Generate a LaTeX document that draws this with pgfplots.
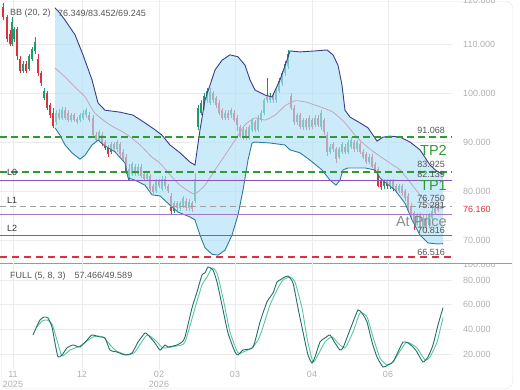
\documentclass[border=0pt]{standalone}
\usepackage{pgfplots}
\pgfplotsset{compat=1.18}
\usepackage{pgfplotstable}
\usepackage{fontspec}
\setmainfont{Liberation Sans}
\definecolor{cred}{HTML}{D8343F}
\definecolor{cgreen}{HTML}{1E9B6C}
\definecolor{bbfill}{HTML}{AFE1F8}
\definecolor{bbup}{HTML}{3E3A8E}
\definecolor{bblo}{HTML}{2E7D98}
\definecolor{bbmid}{HTML}{C4A6B8}
\definecolor{tpgreen}{HTML}{2F9A36}
\definecolor{lvpurple}{HTML}{8A55B5}
\definecolor{lvred}{HTML}{E0303A}
\definecolor{lvgray}{HTML}{A0A0A0}
\definecolor{tickgray}{HTML}{B0B0B0}
\definecolor{txt}{HTML}{555555}
\definecolor{gridc}{HTML}{EBEBEB}
\definecolor{kcol}{HTML}{1F6F6C}
\definecolor{dcol}{HTML}{5CC4A0}
\definecolor{framec}{HTML}{E4E4E4}
\definecolor{sepc}{HTML}{9A9A9A}
\newcommand\tf{\fontsize{9}{10}\selectfont}
\newcommand\bigf{\fontsize{14.5}{15}\selectfont}

\pgfplotstableread{
x o c h l
3 117.5 115.5 118.3 115.0
7 115.5 111.0 116.0 110.5
10 112.0 110.0 112.8 109.6
17 113.0 107.5 113.5 106.8
20 107.0 104.5 107.5 104.0
26 106.0 104.5 106.5 104.0
38 107.0 104.0 108.0 103.5
41 104.0 102.0 104.5 101.5
47 100.0 97.0 100.5 96.5
50 97.5 95.5 98.0 95.0
53 96.0 93.2 97.0 92.8
59 96.0 95.0 96.8 94.6
65 96.5 95.0 97.2 94.6
68 96.0 94.5 96.5 94.0
74 95.5 94.5 96.0 94.0
89 95.5 94.5 96.2 94.0
93 95.0 91.5 95.5 91.0
96 91.5 90.5 92.0 90.0
102 91.5 89.5 92.0 89.2
105 90.0 88.8 90.5 88.4
108 89.0 87.5 89.4 87.0
114 89.5 88.5 90.0 88.0
120 89.5 87.5 90.0 87.0
123 88.0 86.5 88.5 86.0
126 87.0 84.0 87.5 83.5
135 85.0 83.5 85.5 83.0
141 85.0 83.0 85.5 82.6
144 83.5 82.5 84.0 82.0
150 83.0 80.5 83.5 80.0
153 81.0 79.8 81.5 79.3
159 82.0 81.0 82.5 80.6
165 82.5 81.0 83.0 80.5
168 81.0 80.0 81.5 79.5
171 79.0 76.0 79.5 75.3
177 77.5 76.5 78.0 76.0
186 78.0 76.5 78.5 76.0
192 77.5 76.3 78.0 75.8
213 100.0 98.5 100.5 98.0
216 99.0 97.5 99.5 97.0
219 98.0 96.0 98.5 95.5
222 96.5 95.0 97.0 94.5
228 96.0 95.0 96.5 94.5
234 96.0 94.5 96.5 94.0
237 95.0 93.5 95.5 92.2
240 93.0 91.0 93.5 90.8
246 92.5 91.0 93.0 90.5
255 94.0 92.5 94.5 92.0
267 99.5 98.5 103.0 98.0
273 99.5 98.5 100.0 98.0
291 99.5 97.0 100.0 96.5
294 97.0 94.0 97.5 93.5
300 95.5 93.0 96.0 92.6
306 94.5 93.0 95.0 92.5
312 94.5 93.0 95.0 92.6
318 95.0 93.5 95.5 93.0
324 94.5 92.0 95.0 91.5
327 91.5 88.0 92.0 87.2
333 89.5 88.5 90.0 88.0
336 88.5 86.5 89.0 85.8
345 89.0 88.0 89.5 87.5
354 90.0 88.5 90.5 88.0
360 89.5 88.0 90.0 87.5
363 88.0 87.0 88.5 86.5
366 87.5 86.0 88.0 85.5
372 87.0 85.0 87.5 84.6
375 85.5 84.0 86.0 83.6
378 84.5 81.0 85.0 80.8
381 82.0 80.8 82.5 80.3
387 82.0 81.0 82.5 80.5
393 82.0 80.5 82.5 80.0
396 81.0 80.0 81.5 79.5
402 81.0 79.5 81.5 79.0
405 80.0 78.5 80.5 78.0
408 79.0 76.5 79.5 76.0
411 77.0 75.0 77.5 74.5
414 75.5 73.5 76.0 72.0
420 75.0 72.5 75.5 72.0
426 74.5 72.5 75.0 71.5
435 76.5 75.5 77.5 75.0
438 77.0 76.16 77.5 75.8
}\dn

\pgfplotstableread{
x o c h l
12 110.0 114.5 115.5 109.6
14 111.0 113.0 113.5 110.5
23 104.5 106.0 106.5 104.0
29 105.0 107.5 108.0 104.5
32 107.0 109.0 109.5 106.5
35 108.5 110.5 111.5 108.0
44 99.0 100.5 101.0 98.5
56 94.0 96.0 96.5 93.5
62 95.0 96.5 97.2 94.6
71 94.5 95.5 96.0 94.0
77 94.0 94.8 95.2 93.6
80 94.5 95.5 96.0 94.0
83 95.0 96.0 96.6 94.6
86 95.5 96.5 97.0 95.0
99 90.5 92.0 92.5 90.0
111 88.0 89.5 90.0 87.5
117 88.5 90.0 90.5 88.0
129 82.0 84.5 85.5 82.0
132 83.5 85.5 86.0 83.0
138 83.5 85.0 85.5 83.0
147 82.5 83.5 84.0 82.0
156 80.0 82.0 82.5 79.6
162 80.5 82.5 83.0 80.0
174 76.0 77.5 78.0 75.5
180 76.5 77.5 78.0 76.0
183 77.0 78.5 79.0 76.5
189 76.5 77.8 78.3 76.0
195 78.0 82.5 83.7 77.5
198 93.0 97.0 97.5 92.5
201 96.0 98.0 98.5 95.5
204 97.0 99.5 100.0 96.5
207 98.5 100.5 101.0 98.0
210 98.0 100.3 101.0 97.6
225 95.0 96.0 96.5 94.5
231 95.5 96.5 97.0 95.0
243 91.0 92.5 93.0 90.5
249 91.0 93.0 93.5 90.5
252 92.5 94.5 95.0 92.0
258 92.5 95.0 95.5 92.0
261 94.5 96.0 96.5 94.0
264 96.0 98.5 99.0 95.5
270 98.5 99.5 100.0 98.0
276 98.5 100.5 101.0 98.0
279 100.5 102.5 103.0 100.0
282 102.0 104.0 104.5 101.5
285 104.0 106.0 106.5 103.5
288 105.5 108.0 108.8 105.0
297 94.0 95.5 96.0 93.5
303 93.0 94.5 95.0 92.5
309 93.0 95.0 95.5 92.5
315 93.5 95.0 95.5 93.0
321 93.0 96.0 96.5 92.5
330 88.0 89.0 89.5 87.5
339 87.0 88.5 89.0 86.5
342 88.0 89.5 90.0 87.5
348 88.0 90.0 90.5 87.5
351 89.0 90.5 91.0 88.5
357 88.5 90.0 90.5 88.0
369 86.0 87.0 87.5 85.5
384 81.0 82.0 82.5 80.5
390 81.0 82.0 82.5 80.5
399 80.0 81.0 81.5 79.5
417 73.5 75.0 75.5 73.0
423 72.5 74.5 75.0 72.0
429 73.0 75.0 75.5 72.5
432 74.5 76.0 76.5 74.0
}\up

\begin{document}
\begin{tikzpicture}
\useasboundingbox (0,0) rectangle (520pt,-390pt);
\draw[framec, rounded corners=6pt] (1.5pt,-1.5pt) rectangle (512.5pt,-388.5pt);
\begin{axis}[
  at={(0pt,0pt)}, anchor=north west,
  scale only axis, width=452pt, height=263pt,
  xmin=0, xmax=452, ymin=65.3, ymax=119.0,
  clip=false,
  axis line style={draw=none},
  major tick length=0pt,
  xtick={13,82,159,235,312,388}, xticklabels={},
  ytick={70,80,90,100,110},
  yticklabel pos=right,
  /pgf/number format/assume math mode=true,
  yticklabel style={anchor=west, xshift=11pt, inner sep=0pt, font=\tf, text=tickgray,
    /pgf/number format/fixed, /pgf/number format/fixed zerofill,
    /pgf/number format/precision=3, /pgf/number format/1000 sep={}},
  grid=major, major grid style={draw=gridc, line width=0.6pt},
]
% candles: wicks and bodies
\addplot[draw=none, forget plot, error bars/.cd, y dir=plus, y explicit, error mark=none,
  error bar style={line width=0.7pt, draw=cred}]
  table[x=x, y=l, y error plus expr=\thisrow{h}-\thisrow{l}] {\dn};
\addplot[draw=none, forget plot, error bars/.cd, y dir=minus, y explicit, error mark=none,
  error bar style={line width=2.2pt, draw=cred}]
  table[x=x, y=o, y error minus expr=\thisrow{o}-\thisrow{c}] {\dn};
\addplot[draw=none, forget plot, error bars/.cd, y dir=plus, y explicit, error mark=none,
  error bar style={line width=0.7pt, draw=cgreen}]
  table[x=x, y=l, y error plus expr=\thisrow{h}-\thisrow{l}] {\up};
\addplot[draw=none, forget plot, error bars/.cd, y dir=plus, y explicit, error mark=none,
  error bar style={line width=2.2pt, draw=cgreen}]
  table[x=x, y=o, y error plus expr=\thisrow{c}-\thisrow{o}] {\up};
% Bollinger band fill
\addplot[fill=bbfill, fill opacity=0.65, draw=none] coordinates {
(55,117.4)(60,116.3)(65,114.9)(75,111.9)(83,107.8)(92,102.7)(98,98.0)(105,96.5)(120,96.1)(133,95.5)(145,93.9)(155,92.5)(162,91.4)(170,89.4)(180,87.8)(190,85.9)(195,85.3)(200,92.5)(205,98.6)(210,101.6)(215,104.7)(222,106.7)(230,107.8)(238,107.4)(245,105.7)(250,102.7)(255,100.6)(265,99.6)(272,99.2)(280,102.7)(287,106.7)(290,108.6)(300,108.4)(315,108.6)(327,108.8)(333,107.8)(338,105.7)(342,101.6)(345,96.5)(350,95.1)(360,93.9)(368,92.9)(373,91.4)(377,90.2)(383,91.0)(390,91.2)(400,91.0)(410,90.0)(420,88.4)(430,85.3)(437,84.0)(443,83.45)
(443,69.25)(437,69.2)(428,69.4)(420,71.0)(412,74.1)(405,77.5)(395,80.2)(385,81.8)(380,82.7)(375,84.3)(365,84.7)(348,84.7)(343,84.3)(340,82.2)(336,81.2)(330,82.2)(322,84.3)(310,86.3)(300,87.8)(290,88.4)(285,89.4)(270,89.8)(255,90.0)(252,89.8)(248,86.3)(243,80.2)(238,75.1)(232,71.0)(225,67.9)(218,66.9)(212,67.1)(205,68.4)(200,71.0)(195,74.1)(190,74.7)(178,75.7)(170,77.1)(160,79.0)(152,79.2)(145,81.2)(135,82.2)(128,82.7)(125,85.7)(115,88.0)(105,89.2)(98,90.4)(92,89.4)(85,87.3)(80,86.5)(72,87.8)(65,89.4)(60,91.4)(55,92.9)
} -- cycle;
% upper band
\addplot[bbup, line width=0.9pt] coordinates {
(55,117.4)(60,116.3)(65,114.9)(75,111.9)(83,107.8)(92,102.7)(98,98.0)(105,96.5)(120,96.1)(133,95.5)(145,93.9)(155,92.5)(162,91.4)(170,89.4)(180,87.8)(190,85.9)(195,85.3)(200,92.5)(205,98.6)(210,101.6)(215,104.7)(222,106.7)(230,107.8)(238,107.4)(245,105.7)(250,102.7)(255,100.6)(265,99.6)(272,99.2)(280,102.7)(287,106.7)(290,108.6)(300,108.4)(315,108.6)(327,108.8)(333,107.8)(338,105.7)(342,101.6)(345,96.5)(350,95.1)(360,93.9)(368,92.9)(373,91.4)(377,90.2)(383,91.0)(390,91.2)(400,91.0)(410,90.0)(420,88.4)(430,85.3)(437,84.0)(443,83.45)};
% lower band
\addplot[bblo, line width=0.9pt] coordinates {
(55,92.9)(60,91.4)(65,89.4)(72,87.8)(80,86.5)(85,87.3)(92,89.4)(98,90.4)(105,89.2)(115,88.0)(125,85.7)(128,82.7)(135,82.2)(145,81.2)(152,79.2)(160,79.0)(170,77.1)(178,75.7)(190,74.7)(195,74.1)(200,71.0)(205,68.4)(212,67.1)(218,66.9)(225,67.9)(232,71.0)(238,75.1)(243,80.2)(248,86.3)(252,89.8)(255,90.0)(270,89.8)(285,89.4)(290,88.4)(300,87.8)(310,86.3)(322,84.3)(330,82.2)(336,81.2)(340,82.2)(343,84.3)(348,84.7)(365,84.7)(375,84.3)(380,82.7)(385,81.8)(395,80.2)(405,77.5)(412,74.1)(420,71.0)(428,69.4)(437,69.2)(443,69.25)};
% middle band
\addplot[bbmid, line width=0.8pt, smooth, tension=0.4] coordinates {
(55,105.1)(65,103.3)(75,101.2)(85,99.2)(95,95.9)(110,93.5)(125,91.8)(140,89.4)(152,86.9)(160,85.7)(170,83.3)(180,81.2)(190,79.8)(195,79.4)(205,81.2)(215,84.3)(225,87.3)(235,90.4)(245,93.5)(255,94.9)(265,94.5)(275,95.5)(285,97.4)(295,98.4)(305,98.2)(320,97.2)(333,96.1)(345,93.9)(355,91.4)(365,89.4)(375,87.8)(390,85.7)(400,84.3)(410,81.8)(420,79.2)(430,77.1)(443,76.349)};
% levels
\addplot[tpgreen, line width=1.5pt, dash pattern=on 7pt off 4pt] coordinates {(0,91.068) (452,91.068)};
\addplot[tpgreen, line width=1.5pt, dash pattern=on 7pt off 4pt] coordinates {(0,83.925) (452,83.925)};
\addplot[lvpurple, line width=1.0pt] coordinates {(0,82.139) (452,82.139)};
\addplot[lvgray, line width=1.0pt, dash pattern=on 6pt off 4pt] coordinates {(0,76.750) (452,76.750)};
\addplot[lvpurple!80, line width=1.0pt] coordinates {(0,75.281) (452,75.281)};
\addplot[lvpurple, line width=1.0pt] coordinates {(0,70.816) (452,70.816)};
\addplot[lvred, line width=1.5pt, dash pattern=on 7pt off 5pt] coordinates {(0,66.516) (452,66.516)};
% texts
\node[anchor=west, font=\tf, text=txt, inner sep=0pt] at (axis cs:10,116.3) {BB (20, 2)};
\node[anchor=west, font=\tf, text=txt, inner sep=0pt] at (axis cs:58,116.3) {76.349/83.452/69.245};
\node[anchor=east, font=\tf, text=txt, inner sep=0pt] at (axis cs:445,92.45) {91.068};
\node[anchor=east, font=\bigf, text=tpgreen, inner sep=0pt] at (axis cs:447,88.3) {TP2};
\node[anchor=east, font=\tf, text=txt, inner sep=0pt] at (axis cs:445,85.5) {83.925};
\node[anchor=east, font=\tf, text=txt, inner sep=0pt] at (axis cs:445,83.3) {82.139};
\node[anchor=east, font=\bigf, text=tpgreen, inner sep=0pt] at (axis cs:447,81.2) {TP1};
\node[anchor=east, font=\tf, text=txt, inner sep=0pt] at (axis cs:445,78.4) {76.750};
\node[anchor=east, font=\tf, text=txt, inner sep=0pt] at (axis cs:445,77.1) {75.281};
\node[anchor=east, font=\bigf, text=gray!90, inner sep=0pt] at (axis cs:447,73.9) {At Price};
\node[anchor=east, font=\tf, text=txt, inner sep=0pt] at (axis cs:445,72.0) {70.816};
\node[anchor=east, font=\tf, text=txt, inner sep=0pt] at (axis cs:445,67.5) {66.516};
\node[anchor=west, font=\tf, text=black!80, inner sep=0pt] at (axis cs:7,83.9) {L0};
\node[anchor=west, font=\tf, text=black!80, inner sep=0pt] at (axis cs:7,78.0) {L1};
\node[anchor=west, font=\tf, text=black!80, inner sep=0pt] at (axis cs:7,72.4) {L2};
\node[anchor=west, font=\tf, text=lvred, inner sep=0pt, xshift=11pt] at (axis cs:452,76.16) {76.160};
\node[anchor=west, font=\tf, text=tickgray, inner sep=0pt, xshift=11pt] at (axis cs:452,118.9) {120.000};
\end{axis}
\draw[sepc, line width=0.9pt] (0,-263pt) -- (512pt,-263pt);
\begin{axis}[
  at={(0pt,-263pt)}, anchor=north west,
  scale only axis, width=452pt, height=107pt,
  xmin=0, xmax=452, ymin=7, ymax=93.8,
  clip=false,
  axis line style={draw=none},
  major tick length=0pt,
  xtick={13,82,159,235,312,388},
  xticklabels={{11\\2025},{12},{02\\2026},{03},{04},{06}},
  xticklabel style={align=center, font=\fontsize{9}{9.8}\selectfont, text=tickgray, inner sep=0pt, yshift=-1pt},
  ytick={20,40,60,80},
  yticklabel pos=right,
  /pgf/number format/assume math mode=true,
  yticklabel style={anchor=west, xshift=11pt, inner sep=0pt, font=\tf, text=tickgray,
    /pgf/number format/fixed, /pgf/number format/fixed zerofill,
    /pgf/number format/precision=3, /pgf/number format/1000 sep={}},
  grid=major, major grid style={draw=gridc, line width=0.6pt},
]
\addplot[dcol, line width=0.9pt, smooth, tension=0.35] coordinates {
(37,41.9)(42,46.7)(47,47.6)(52,44.3)(57,31.3)(62,18.5)(70,23.2)(80,26.5)(93,33.8)(103,33.8)(115,23.2)(127,19.2)(135,21.6)(147,35.4)(157,29.7)(163,24.9)(177,26.5)(185,29.7)(195,57.3)(202,75.9)(207,82.4)(212,89.7)(217,85.7)(223,65.4)(230,37.8)(238,20.8)(243,21.6)(252,24.9)(258,31.3)(262,39.4)(270,59.7)(278,73.5)(283,80)(290,82.4)(295,78.4)(302,57.3)(307,33)(313,13.5)(318,19.2)(325,29.7)(332,33.8)(338,28.9)(345,24.9)(353,37.8)(360,53.2)(367,50)(373,33.8)(380,16.7)(387,11.1)(393,13.5)(402,24.9)(407,29.7)(417,24.9)(425,15.1)(430,17.6)(437,29.7)(443,49.589)};
\addplot[kcol, line width=0.9pt, smooth, tension=0.35] coordinates {
(33,35.4)(37,42.7)(40,47.6)(44,50)(48,49.2)(52,41.9)(55,28.9)(58,17.6)(62,19.2)(67,24.9)(73,27.3)(80,25.7)(87,31.3)(92,35.4)(100,33.8)(105,33)(110,23.2)(117,21.6)(125,19.2)(132,20.8)(138,29.7)(145,37)(148,35.4)(155,28.9)(160,23.2)(165,27.3)(168,25.7)(177,27.3)(182,29.7)(185,33.8)(192,57.3)(197,70.3)(202,84.1)(205,85.7)(208,90.5)(213,88.1)(217,78.4)(222,59.7)(228,37)(235,21.6)(238,19.2)(243,23.2)(253,25.5)(260,45.9)(267,62.2)(273,69.5)(277,78.4)(280,80)(283,81.6)(288,83.2)(293,77.6)(298,57.3)(303,37.8)(308,19.2)(312,12.7)(315,17.6)(320,29.7)(325,33)(330,35.4)(335,28.9)(340,23.2)(343,24.9)(348,35.4)(353,45.9)(358,55.7)(362,53.2)(367,45.9)(372,29.7)(377,17.6)(383,9.4)(388,11.1)(393,13.5)(398,21.6)(403,29.7)(408,28.9)(413,25.7)(417,21.6)(423,13.5)(428,17.6)(433,27.3)(438,43.5)(443,57.466)};
\node[anchor=west, font=\tf, text=txt, inner sep=0pt] at (axis cs:10,83.2) {FULL (5, 8, 3)\quad 57.466/49.589};
\end{axis}
\begin{scope}
\clip (455pt,-263.6pt) rectangle (520pt,-290pt);
\node[anchor=west, font=\tf, text=tickgray, inner sep=0pt] at (463pt,-264.5pt) {100.000};
\end{scope}
\end{tikzpicture}
\end{document}
